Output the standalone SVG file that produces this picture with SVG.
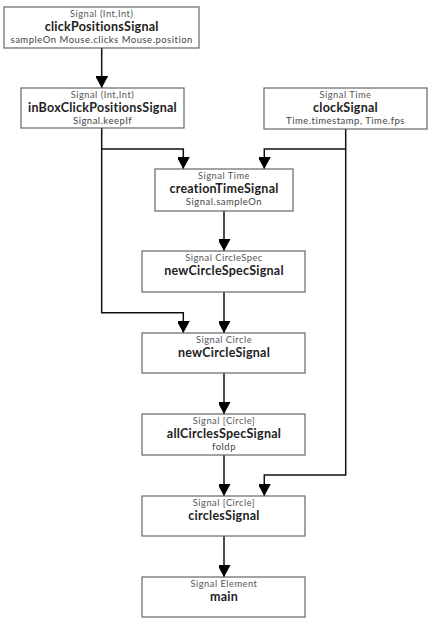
<svg xmlns="http://www.w3.org/2000/svg" width="432" height="622" viewBox="0 0 432 622">
<style>
.box{fill:#fff;stroke:#666;stroke-width:1.2}
.t1{font-family:Lato,"Open Sans",sans-serif;font-size:9.3px;letter-spacing:0.5px;fill:#555;text-anchor:middle}
.t2{font-family:Lato,"Open Sans",sans-serif;font-size:12.5px;letter-spacing:0.25px;font-weight:bold;fill:#222;text-anchor:middle}
.t3{font-family:Lato,"Open Sans",sans-serif;font-size:9.5px;letter-spacing:0.5px;fill:#444;text-anchor:middle}
.ln{fill:none;stroke:#111;stroke-width:1.5}
</style>
<defs>
<marker id="ah" markerWidth="13" markerHeight="12" refX="12" refY="6.5" orient="auto" markerUnits="userSpaceOnUse">
<path d="M0,0 L12,6.5 L0,13 Z" fill="#000"/>
</marker>
</defs>
<g id="connectors">
<path class="ln" d="M101.7,48 V88" marker-end="url(#ah)"/>
<path class="ln" d="M101.7,128 V149 H183.3 V169" marker-end="url(#ah)"/>
<path class="ln" d="M345.7,129 V149 H264.3 V169" marker-end="url(#ah)"/>
<path class="ln" d="M224,211 V251" marker-end="url(#ah)"/>
<path class="ln" d="M101.7,149 V312.7 H183.3 V333" marker-end="url(#ah)"/>
<path class="ln" d="M224,292 V333" marker-end="url(#ah)"/>
<path class="ln" d="M224,373 V414" marker-end="url(#ah)"/>
<path class="ln" d="M345.7,149 V475 H264.3 V496" marker-end="url(#ah)"/>
<path class="ln" d="M224,455 V496" marker-end="url(#ah)"/>
<path class="ln" d="M224,536 V577" marker-end="url(#ah)"/>
</g>
<g id="clickPositionsSignal">
<rect class="box" x="4" y="7" width="195" height="41"/>
<text class="t1" x="101.7" y="16.5">Signal (Int,Int)</text>
<text class="t2" x="101.7" y="31">clickPositionsSignal</text>
<text class="t3" x="101.7" y="43.3">sampleOn Mouse.clicks Mouse.position</text>
</g>
<g id="inBoxClickPositionsSignal">
<rect class="box" x="21" y="88" width="163" height="40"/>
<text class="t1" x="102.5" y="97.5">Signal (Int,Int)</text>
<text class="t2" x="102.5" y="112">inBoxClickPositionsSignal</text>
<text class="t3" x="102.5" y="124.3">Signal.keepIf</text>
</g>
<g id="clockSignal">
<rect class="box" x="264" y="88" width="163" height="41"/>
<text class="t1" x="345.5" y="97.5">Signal Time</text>
<text class="t2" x="345.5" y="112">clockSignal</text>
<text class="t3" x="345.5" y="124.3">Time.timestamp, Time.fps</text>
</g>
<g id="creationTimeSignal">
<rect class="box" x="155" y="169" width="138" height="42"/>
<text class="t1" x="224" y="178.5">Signal Time</text>
<text class="t2" x="224" y="193">creationTimeSignal</text>
<text class="t3" x="224" y="205.3">Signal.sampleOn</text>
</g>
<g id="newCircleSpecSignal">
<rect class="box" x="142" y="251" width="163" height="41"/>
<text class="t1" x="224" y="260.5">Signal CircleSpec</text>
<text class="t2" x="224" y="275">newCircleSpecSignal</text>
</g>
<g id="newCircleSignal">
<rect class="box" x="142" y="333" width="163" height="40"/>
<text class="t1" x="224" y="342.5">Signal Circle</text>
<text class="t2" x="224" y="357">newCircleSignal</text>
</g>
<g id="allCirclesSpecSignal">
<rect class="box" x="142" y="414" width="163" height="41"/>
<text class="t1" x="224" y="423.5">Signal [Circle]</text>
<text class="t2" x="224" y="438">allCirclesSpecSignal</text>
<text class="t3" x="224" y="450.3">foldp</text>
</g>
<g id="circlesSignal">
<rect class="box" x="142" y="496" width="163" height="40"/>
<text class="t1" x="224" y="505.5">Signal [Circle]</text>
<text class="t2" x="224" y="520">circlesSignal</text>
</g>
<g id="main">
<rect class="box" x="142" y="577" width="163" height="40"/>
<text class="t1" x="224" y="586.5">Signal Element</text>
<text class="t2" x="224" y="601">main</text>
</g>
</svg>
